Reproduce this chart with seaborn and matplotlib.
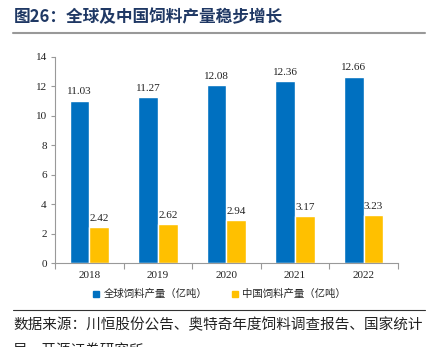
import matplotlib
matplotlib.use("Agg")
import matplotlib.pyplot as plt
import seaborn as sns
import pandas as pd
from matplotlib.lines import Line2D

years = ["2018", "2019", "2020", "2021", "2022"]
global_feed = [11.03, 11.27, 12.08, 12.36, 12.66]
china_feed = [2.42, 2.62, 2.94, 3.17, 3.23]
series_names = ["全球饲料产量（亿吨）", "中国饲料产量（亿吨）"]
yticks = [0, 2, 4, 6, 8, 10, 12, 14]
title = "图26：全球及中国饲料产量稳步增长"
source_line1 = "数据来源：川恒股份公告、奥特奇年度饲料调查报告、国家统计"
source_line2 = "局、开源证券研究所"

df = pd.DataFrame({
    "year": years * 2,
    "value": global_feed + china_feed,
    "series": [series_names[0]] * len(years) + [series_names[1]] * len(years),
})

sns.set_theme(style="white")
cjk = ["Noto Sans CJK SC", "DejaVu Sans"]
serif = ["Liberation Serif", "DejaVu Serif"]
plt.rcParams["font.family"] = cjk

fig = plt.figure(figsize=(4.31, 3.47), dpi=100)
ax = fig.add_axes([0.128, 0.242, 0.795, 0.594])

palette = {series_names[0]: "#0070C0", series_names[1]: "#FFC000"}
sns.barplot(data=df, x="year", y="value", hue="series", palette=palette,
            width=0.58, ax=ax, saturation=1, legend=False)

for cont in ax.containers:
    ax.bar_label(cont, fmt="%.2f", padding=3, fontsize=8, family=serif, color="#222222")

ax.set_ylim(0, 14)
ax.set_xlim(-0.5, 4.5)
ax.set_yticks(yticks)
ax.set_yticklabels([str(v) for v in yticks], family=serif, fontsize=8, color="#222222")
ax.set_xticks(range(len(years)))
ax.set_xticklabels(years, family=serif, fontsize=8, color="#222222")
ax.set_xticks([i - 0.5 for i in range(len(years) + 1)], minor=True)
ax.tick_params(axis="x", which="major", length=0, pad=6)
ax.tick_params(axis="x", which="minor", length=4, color="#999999", width=0.8, direction="out", bottom=True)
ax.tick_params(axis="y", length=3, color="#999999", width=0.8, direction="out", left=True, pad=3)
ax.set_xlabel("")
ax.set_ylabel("")
for s in ["top", "right"]:
    ax.spines[s].set_visible(False)
for s in ["left", "bottom"]:
    ax.spines[s].set_color("#999999")
    ax.spines[s].set_linewidth(0.8)

handles = [Line2D([], [], marker="s", linestyle="", markersize=5,
                  markerfacecolor=palette[n], markeredgecolor=palette[n]) for n in series_names]
fig.legend(handles, series_names, loc="center", bbox_to_anchor=(0.508, 0.152), ncol=2,
           frameon=False, handlelength=0.8, handletextpad=0.3, columnspacing=2.2,
           prop={"family": cjk, "size": 7.5})

fig.text(0.033, 0.951, title, fontsize=12, fontweight="bold", color="#1F3864", va="center", ha="left")
fig.add_artist(Line2D([0.03, 0.985], [0.904, 0.904], color="#999999", linewidth=1.5))
fig.add_artist(Line2D([0.03, 0.985], [0.107, 0.107], color="#333333", linewidth=0.8))
fig.text(0.03, 0.063, source_line1, fontsize=10.5, color="#222222", va="center", ha="left")
fig.text(0.03, -0.012, source_line2, fontsize=10.5, color="#222222", va="center", ha="left")

fig.savefig("out.png", dpi=100)
